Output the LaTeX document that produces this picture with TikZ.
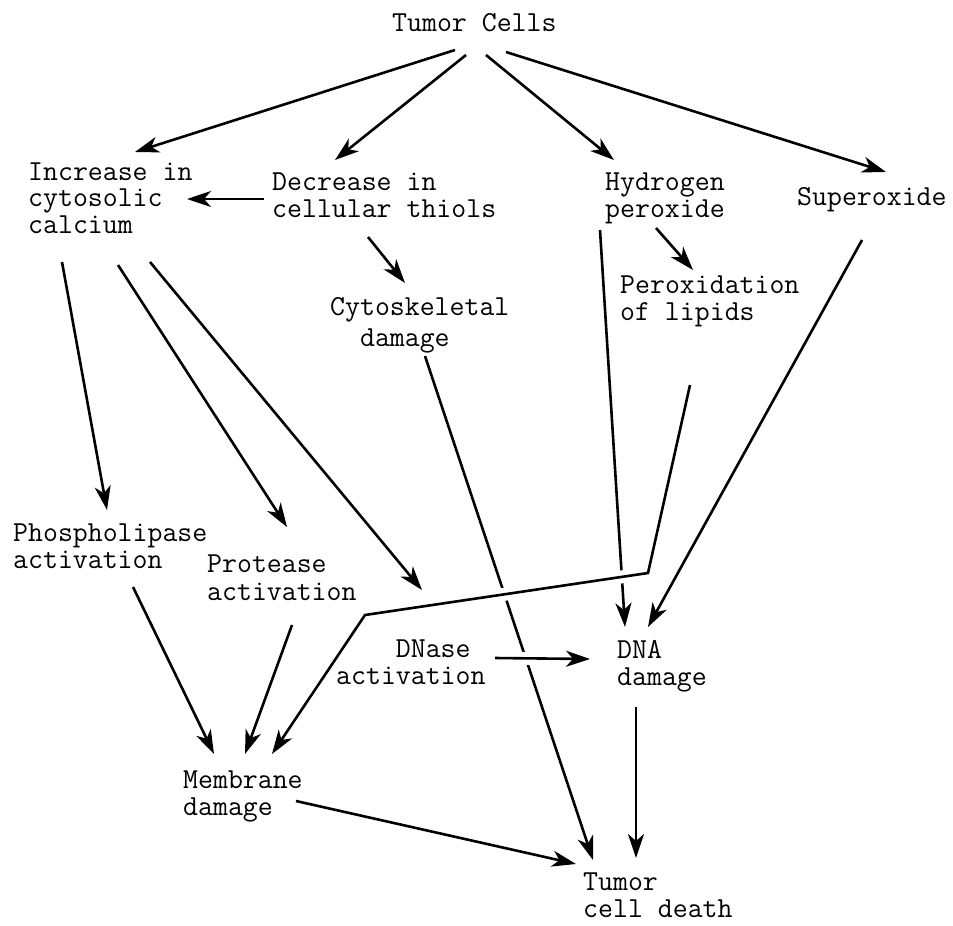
\documentclass[tikz,border=0pt]{standalone}
\usepackage{fontspec}
\usetikzlibrary{arrows.meta}
\begin{document}
\begin{tikzpicture}[x=1pt,y=-1pt,
  lbl/.style={anchor=base west,inner sep=0pt,align=left,font=\ttfamily\fontsize{29}{26.5}\selectfont},
  arr/.style={line width=2.6pt,-{Stealth[length=24pt,width=16pt,inset=7pt]}},
  halo/.style={preaction={draw=white,line width=13pt,-}}]
\useasboundingbox[fill=white] (0,0) rectangle (953,926);

% labels (anchor = baseline of last line)
\node[lbl] (tc)  at (392,31)  {Tumor Cells};
\node[lbl] (inc) at (28,233)  {Increase in\\cytosolic\\calcium};
\node[lbl] (dec) at (272,217) {Decrease in\\cellular thiols};
\node[lbl] (hyd) at (605,217) {Hydrogen\\peroxide};
\node[lbl] (sup) at (797,205) {Superoxide};
\node[lbl] (cyt) at (330,346) {Cytoskeletal\\[4.5pt]\phantom{Cy}damage};
\node[lbl] (per) at (620,320) {Peroxidation\\of lipids};
\node[lbl] (pho) at (13,568)  {Phospholipase\\activation};
\node[lbl] (pro) at (207,600) {Protease\\[1pt]activation};
\node[lbl] (dns) at (336,684) {\phantom{acti}DNase\\activation};
\node[lbl] (dna) at (617,685) {DNA\\damage};
\node[lbl] (mem) at (183,815) {Membrane\\damage};
\node[lbl] (tcd) at (583,917) {Tumor\\cell death};

% connector end points
\coordinate (tc1) at (455,50);  \coordinate (inc1) at (135,152);
\coordinate (tc2) at (466,55);  \coordinate (dec1) at (335,160);
\coordinate (tc3) at (486,55);  \coordinate (hyd1) at (614,160);
\coordinate (tc4) at (506,52);  \coordinate (sup1) at (886,172);
\coordinate (dec2) at (264,199); \coordinate (inc2) at (187,199);
\coordinate (dec3) at (368,237); \coordinate (cyt1) at (405,283);
\coordinate (hyd2) at (656,228); \coordinate (per1) at (693,270);
\coordinate (inc3) at (62,262);  \coordinate (pho1) at (107,510);
\coordinate (inc4) at (118,265); \coordinate (pro1) at (287,527);
\coordinate (inc5) at (150,262); \coordinate (dns1) at (422,590);
\coordinate (hyd3) at (600,230); \coordinate (dna1) at (625,627);
\coordinate (sup2) at (862,240); \coordinate (dna2) at (648,627);
\coordinate (per2) at (690,385); \coordinate (bend1) at (648,573);
\coordinate (bend2) at (365,615); \coordinate (mem1) at (272,754);
\coordinate (cyt2) at (425,356); \coordinate (tcd1) at (593,860);
\coordinate (pho2) at (133,587); \coordinate (mem2) at (214,754);
\coordinate (pro2) at (292,625); \coordinate (mem3) at (245,754);
\coordinate (dns2) at (495,658); \coordinate (dna3) at (590,659);
\coordinate (dna4) at (636,707); \coordinate (tcd2) at (636,858);
\coordinate (mem4) at (296,801); \coordinate (tcd3) at (576,864);

% connectors
\draw[arr] (tc1) -- (inc1);
\draw[arr] (tc2) -- (dec1);
\draw[arr] (tc3) -- (hyd1);
\draw[arr] (tc4) -- (sup1);
\draw[arr] (dec2) -- (inc2);
\draw[arr] (dec3) -- (cyt1);
\draw[arr] (hyd2) -- (per1);
\draw[arr] (inc3) -- (pho1);
\draw[arr] (inc4) -- (pro1);
\draw[arr] (inc5) -- (dns1);
\draw[arr] (hyd3) -- (dna1);
\draw[arr] (sup2) -- (dna2);
\draw[arr] (cyt2) -- (tcd1);
\draw[arr,halo] (per2) -- (bend1) -- (bend2) -- (mem1);
\draw[arr,halo] (dns2) -- (dna3);
\draw[arr] (pho2) -- (mem2);
\draw[arr] (pro2) -- (mem3);
\draw[arr] (dna4) -- (tcd2);
\draw[arr] (mem4) -- (tcd3);
\end{tikzpicture}
\end{document}
